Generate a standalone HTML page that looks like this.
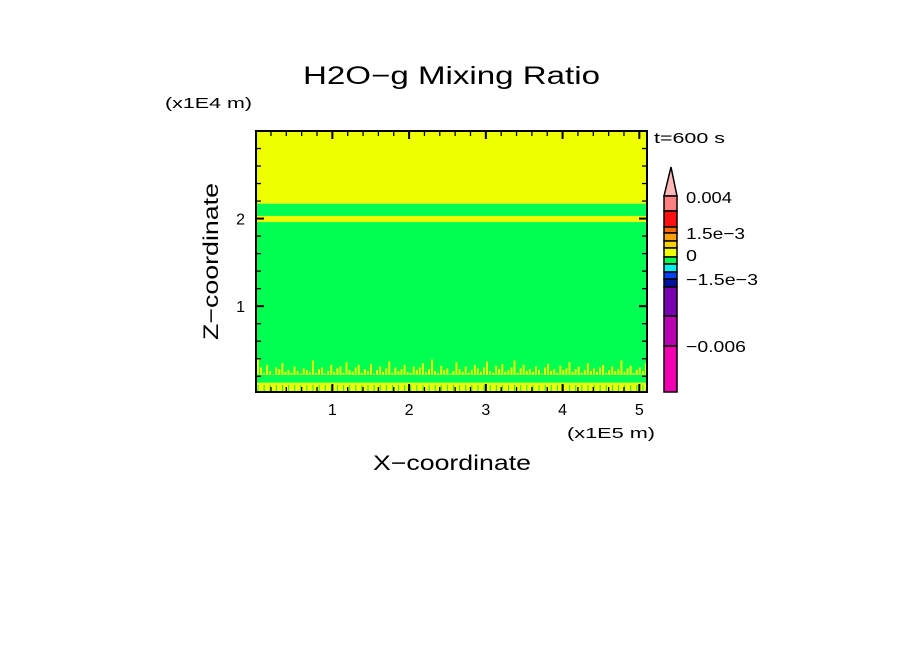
<!DOCTYPE html>
<html><head><meta charset="utf-8"><style>
body{margin:0;background:#fff;}
svg{display:block;font-family:"Liberation Sans",sans-serif;}
</style></head><body>
<svg id="chart" width="904" height="654">
<text x="303" y="84" font-size="25" textLength="297" lengthAdjust="spacingAndGlyphs">H2O−g Mixing Ratio</text>
<text x="165" y="108" font-size="15" textLength="87" lengthAdjust="spacingAndGlyphs">(x1E4 m)</text>
<text x="654" y="143" font-size="15" textLength="71" lengthAdjust="spacingAndGlyphs">t=600 s</text>
<text x="567" y="438" font-size="15" textLength="88" lengthAdjust="spacingAndGlyphs">(x1E5 m)</text>
<text x="373" y="470" font-size="21" textLength="158" lengthAdjust="spacingAndGlyphs">X−coordinate</text>
<text transform="translate(218,340) rotate(-90)" font-size="21" textLength="157" lengthAdjust="spacingAndGlyphs">Z−coordinate</text>
<g id="plot"></g>
<g id="cbar"></g>
</svg>
<script>
const layerBottoms=[2.17,2.03,1.96,0.216,0.125,0.02];
const layerTops=[3.0,2.17,2.03,1.96,0.216,0.125];
const layerColors=['#f0ff00','#00ff50','#f0ff00','#00ff50','#00ff50','#f0ff00'];
const spikeTops=[0.40,0.30,0.24,0.33,0.26,0.22,0.30,0.28,0.35,0.25,0.27,0.24,0.31,0.26,0.23,0.29,0.27,0.25,0.38,0.24,0.28,0.30,0.23,0.26,0.33,0.25,0.29,0.31,0.24,0.36,0.27,0.25,0.30,0.33,0.24,0.28,0.26,0.34,0.23,0.27,0.31,0.25,0.29,0.37,0.24,0.30,0.26,0.28,0.33,0.25,0.24,0.31,0.27,0.30,0.35,0.25,0.28,0.39,0.26,0.24,0.32,0.27,0.29,0.23,0.26,0.36,0.28,0.25,0.31,0.24,0.27,0.33,0.29,0.25,0.30,0.37,0.26,0.24,0.32,0.28,0.34,0.25,0.27,0.30,0.38,0.24,0.29,0.33,0.26,0.28,0.25,0.31,0.27,0.23,0.30,0.34,0.26,0.28,0.24,0.32,0.27,0.29,0.36,0.25,0.28,0.31,0.24,0.27,0.35,0.26,0.29,0.25,0.30,0.33,0.24,0.27,0.31,0.26,0.28,0.38,0.25,0.29,0.32,0.24,0.27,0.30,0.26,0.35];
const xTicks=[1,2,3,4,5];
const yTicks=[1,2];
const cbColors=['#ff8080','#ff1010','#ff6a00','#ffa000','#ffd000','#f0ff00','#00ff50','#00f0f0','#0040ff','#0010a0','#7800b0','#b800b0','#f000b0'];
const cbEdges=[196,211,227,233,241,248,257,264,272,279,287,316,346,392];
const cbLabels=['0.004','1.5e−3','0','−1.5e−3','−0.006'];
const cbLabelY=[197,233,255,279,346];
const cbLabelW=[46,59,11,72,60];

const NS='http://www.w3.org/2000/svg';
const X0=256,X1=647,Y0=131,Y1=392,XMIN=0.005,XMAX=5.1,YMIN=0.02,YMAX=3.0;
const sx=v=>X0+(v-XMIN)/(XMAX-XMIN)*(X1-X0);
const sy=v=>Y1-(v-YMIN)/(YMAX-YMIN)*(Y1-Y0);
function mk(tag,attrs,parent){const e=document.createElementNS(NS,tag);for(const k in attrs)e.setAttribute(k,attrs[k]);parent.appendChild(e);return e;}
const plot=document.getElementById('plot');
layerColors.forEach((c,i)=>{
  const r=mk('rect',{x:X0,y:sy(layerTops[i]),width:X1-X0,height:sy(layerBottoms[i])-sy(layerTops[i]),fill:c},plot);
  
  
});
for(let i=0;i<spikeTops.length;i+=2){
  const x=sx(XMIN+(i+0.5)*(XMAX-XMIN)/spikeTops.length);
  const f=mk('rect',{x:x,y:sy(0.1),width:1,height:sy(0.03)-sy(0.1),fill:'#00ff50'},plot);
  
  
}
spikeTops.forEach((v,i)=>{
  const x=sx(XMIN+(i+0.3)*(XMAX-XMIN)/spikeTops.length);
  const s=mk('rect',{x:x,y:sy(v),width:2,height:sy(0.216)-sy(v),fill:'#f0ff00'},plot);
  
  
});
const fr=mk('rect',{x:X0,y:Y0,width:X1-X0,height:Y1-Y0,fill:'none',stroke:'#000','stroke-width':2},plot);


for(let v=0.2;v<XMAX;v+=0.2){
  const major=Math.abs(v-Math.round(v))<0.01;const L=major?8:5;const x=sx(v);
  mk('line',{x1:x,x2:x,y1:Y1,y2:Y1-L,stroke:'#000','stroke-width':major?2:1.3},plot);
  mk('line',{x1:x,x2:x,y1:Y0,y2:Y0+L,stroke:'#000','stroke-width':major?2:1.3},plot);
}
for(let v=0.2;v<YMAX;v+=0.2){
  const major=Math.abs(v-Math.round(v))<0.01;const L=major?8:5;const y=sy(v);
  mk('line',{x1:X0,x2:X0+L,y1:y,y2:y,stroke:'#000','stroke-width':major?2:1.3},plot);
  mk('line',{x1:X1,x2:X1-L,y1:y,y2:y,stroke:'#000','stroke-width':major?2:1.3},plot);
}
xTicks.forEach(v=>{const t=mk('text',{x:sx(v),y:415,'text-anchor':'middle','font-size':16},plot);t.textContent=v;
  });
yTicks.forEach(v=>{const t=mk('text',{x:245,y:sy(v)+6,'text-anchor':'end','font-size':16},plot);t.textContent=v;
  });
const cb=document.getElementById('cbar');
const tri=mk('polygon',{points:'664,196 677,196 671,167',fill:'#ffb8b8',stroke:'#000','stroke-width':1.5},cb);


cbColors.forEach((c,i)=>{
  const r=mk('rect',{x:664,y:cbEdges[i],width:13,height:cbEdges[i+1]-cbEdges[i],fill:c,stroke:'#000','stroke-width':1.5},cb);
  
  
});
cbLabels.forEach((l,i)=>{const t=mk('text',{x:686,y:cbLabelY[i]+6,'font-size':16,textLength:cbLabelW[i],lengthAdjust:'spacingAndGlyphs'},cb);t.textContent=l;
  });
</script>
</body></html>
